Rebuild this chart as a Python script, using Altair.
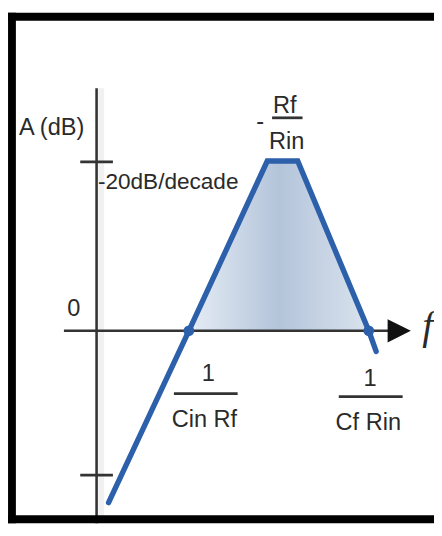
import altair as alt
import pandas as pd

# ---- scales: x in decades of frequency, y in dB ----
X_DOMAIN = [-0.96, 3.657]
Y_DOMAIN = [-19.6, 32.4]

# ---- asymptotic gain curve ----
curve_x = [0.13, 1.0, 1.85, 2.18, 2.95, 3.03]
curve_y = [-17.5, 0.0, 17.3, 17.3, 0.0, -2.1]

# shaded pass band
band_x = [1.0, 1.85, 2.18, 2.95]
band_y = [0.0, 17.3, 17.3, 0.0]
band_base = [0.0, 0.0, 0.0, 0.0]

# corner frequency markers
corner_x = [1.0, 2.95]
corner_y = [0.0, 0.0]

# axes
axis_x = [0.0, -0.354]
axis_x2 = [0.0, 3.18]
axis_y = [24.7, 0.0]
axis_y2 = [-19.6, 0.0]

# y-axis tick marks
tick_x = [-0.177, -0.177]
tick_x2 = [0.177, 0.177]
tick_y = [17.2, -14.7]

# fraction bars
bar_x = [1.902, 0.838, 2.625]
bar_x2 = [2.232, 1.529, 3.317]
bar_y = [21.7, -6.4, -6.7]

# arrow head of the frequency axis
arrow_x = [3.28]
arrow_y = [0.0]

# frame (top, left, bottom)
frame_x = [-0.96, -0.917, -0.96]
frame_x2 = [3.657, -0.917, 3.657]
frame_y = [32.0, 32.4, -19.2]
frame_y2 = [32.0, -19.6, -19.2]

# labels (centered)
label_text = ["A (dB)", "0", "-", "Rf", "Rin", "1", "Cin Rf", "1", "Cf Rin"]
label_x = [-0.487, -0.248, 1.774, 2.04, 2.06, 1.21, 1.168, 2.965, 2.945]
label_y = [19.9, 1.5, 20.6, 22.2, 18.5, -5.1, -9.8, -5.6, -10.1]

# labels (left aligned)
slope_text = ["-20dB/decade"]
slope_x = [0.015]
slope_y = [14.4]

freq_text = ["f"]
freq_x = [3.529]
freq_y = [-0.8]

FONT = "Liberation Sans, Arial, sans-serif"

def X(field="x"):
    return alt.X(field, type="quantitative", scale=alt.Scale(domain=X_DOMAIN, nice=False, zero=False), axis=None)

def Y(field="y"):
    return alt.Y(field, type="quantitative", scale=alt.Scale(domain=Y_DOMAIN, nice=False, zero=False), axis=None)

def seg_df(x, x2, y, y2):
    return pd.DataFrame({"x": x, "x2": x2, "y": y, "y2": y2})

curve_df = pd.DataFrame({"x": curve_x, "y": curve_y, "i": list(range(len(curve_x)))})
band_df = pd.DataFrame({"x": band_x, "y": band_y, "b": band_base})
corner_df = pd.DataFrame({"x": corner_x, "y": corner_y})
axes_df = seg_df(axis_x, axis_x2, axis_y, axis_y2)
ticks_df = seg_df(tick_x, tick_x2, tick_y, tick_y)
bars_df = seg_df(bar_x, bar_x2, bar_y, bar_y)
frame_df = seg_df(frame_x, frame_x2, frame_y, frame_y2)
arrow_df = pd.DataFrame({"x": arrow_x, "y": arrow_y})
label_df = pd.DataFrame({"t": label_text, "x": label_x, "y": label_y})
slope_df = pd.DataFrame({"t": slope_text, "x": slope_x, "y": slope_y})
freq_df = pd.DataFrame({"t": freq_text, "x": freq_x, "y": freq_y})
shadow_df = seg_df([0.05], [0.05], [24.7], [-19.6])

def segments(df, color, width):
    return alt.Chart(df).mark_rule(color=color, strokeWidth=width).encode(
        x=X("x"), x2="x2", y=Y("y"), y2="y2"
    )

band = alt.Chart(band_df).mark_area(
    opacity=1,
    fill=alt.Gradient(
        gradient="linear",
        stops=[
            alt.GradientStop(color="#e6edf5", offset=0),
            alt.GradientStop(color="#b3c4da", offset=0.5),
            alt.GradientStop(color="#dae3ee", offset=1),
        ],
        x1=0, x2=1, y1=0, y2=0,
    ),
).encode(x=X("x"), y=Y("y"), y2="b")

shadow = segments(shadow_df, "#f1f1f1", 6)
axes = segments(axes_df, "#333333", 2.6)
ticks = segments(ticks_df, "#333333", 2.8)
bars = segments(bars_df, "#333333", 2.8)
frame = segments(frame_df, "#000000", 8)

curve = alt.Chart(curve_df).mark_line(
    color="#2c60aa", strokeWidth=5.5, strokeJoin="miter", strokeCap="round"
).encode(x=X("x"), y=Y("y"), order="i")

dots = alt.Chart(corner_df).mark_point(
    shape="circle", filled=True, size=120, color="#2c60aa", opacity=1
).encode(x=X("x"), y=Y("y"))

arrow = alt.Chart(arrow_df).mark_point(
    shape="M-1,-1L1,0L-1,1Z", filled=True, size=560, color="#111111", opacity=1
).encode(x=X("x"), y=Y("y"))

labels = alt.Chart(label_df).mark_text(
    font=FONT, fontSize=24, color="#2a2a2a", align="center", baseline="alphabetic"
).encode(x=X("x"), y=Y("y"), text="t")

slope = alt.Chart(slope_df).mark_text(
    font=FONT, fontSize=23, color="#2a2a2a", align="left", baseline="alphabetic"
).encode(x=X("x"), y=Y("y"), text="t")

freq = alt.Chart(freq_df).mark_text(
    font="Liberation Serif, DejaVu Serif, serif", fontSize=40, fontStyle="italic",
    color="#2a2a2a", align="left", baseline="alphabetic"
).encode(x=X("x"), y=Y("y"), text="t")

chart = alt.layer(
    shadow, band, axes, ticks, curve, dots, arrow, bars, labels, slope, freq, frame
).properties(
    width=434, height=520, padding=0, background="white",
    autosize=alt.AutoSizeParams(type="none"),
).configure_view(stroke=None)

chart.save("out.html", embed_options={"renderer": "svg", "actions": False})
